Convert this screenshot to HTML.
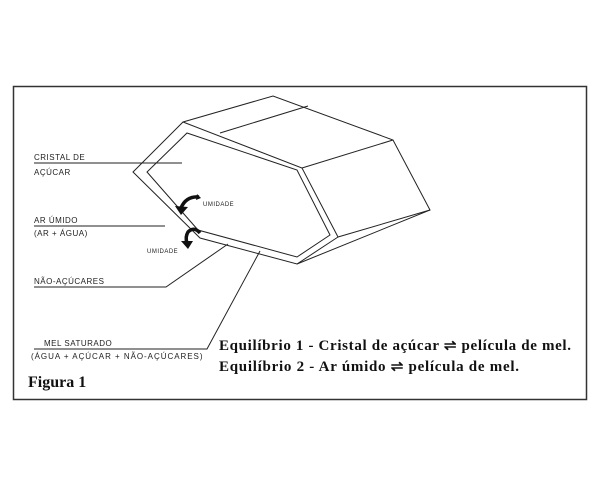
<!DOCTYPE html>
<html><head><meta charset="utf-8"><style>
html,body{margin:0;padding:0;background:#fff;}
svg{display:block;}
.s{font-family:"Liberation Sans",sans-serif;font-size:8px;fill:#222;letter-spacing:0.5px;}
.b{font-family:"Liberation Serif",serif;font-weight:bold;fill:#111;}
</style></head><body>
<svg width="600" height="487" viewBox="0 0 600 487" xmlns="http://www.w3.org/2000/svg">
<rect x="0" y="0" width="600" height="487" fill="#fff"/>
<rect x="13.5" y="86.5" width="573" height="313" fill="none" stroke="#333" stroke-width="1.5"/>
<g fill="none" stroke="#222" stroke-width="1">
<polygon points="183,122 302,168 338,237 297,264 200,238 133,172"/>
<polyline points="183,122 273,96 393,140 430,210 297,264"/>
<line x1="220" y1="133" x2="308" y2="106"/>
<line x1="302" y1="168" x2="393" y2="140"/>
<line x1="338" y1="237" x2="430" y2="210"/>
<polygon points="187,133 297,170 330,235 297,257 198,230 147,172"/>
<line x1="34" y1="163" x2="182" y2="163"/>
<line x1="34" y1="226" x2="165" y2="226"/>
<polyline points="34,287 166,287 228,244"/>
<polyline points="34,349 207,349 260,251"/>
</g>
<path d="M199,197 Q186,196 181,208" fill="none" stroke="#111" stroke-width="3.5"/>
<polygon points="175,206 188,207 181,215" fill="#111"/>
<polygon points="197,194 201,198 196,200" fill="#111"/>
<path d="M200,233 Q194,226 188,232 Q185,237 187,243" fill="none" stroke="#111" stroke-width="3.5"/>
<polygon points="181,241 193,241 188,249" fill="#111"/>
<text class="s" x="203" y="206" style="font-size:6px">UMIDADE</text>
<text class="s" x="147" y="253" style="font-size:6px">UMIDADE</text>
<text class="s" x="34" y="160">CRISTAL  DE</text>
<text class="s" x="34" y="175">AÇÚCAR</text>
<text class="s" x="34" y="223">AR ÚMIDO</text>
<text class="s" x="34" y="236">(AR + ÁGUA)</text>
<text class="s" x="34" y="284">NÃO-AÇÚCARES</text>
<text class="s" x="44" y="346">MEL SATURADO</text>
<text class="s" x="31" y="359" textLength="172">(ÁGUA + AÇÚCAR + NÃO-AÇÚCARES)</text>
<text class="b" x="219" y="350" font-size="15" textLength="352">Equilíbrio 1 - Cristal de açúcar ⇌ película de mel.</text>
<text class="b" x="219" y="371" font-size="15" textLength="300">Equilíbrio 2 - Ar úmido ⇌ película de mel.</text>
<text class="b" x="28" y="387" font-size="16">Figura 1</text>
</svg>
</body></html>
